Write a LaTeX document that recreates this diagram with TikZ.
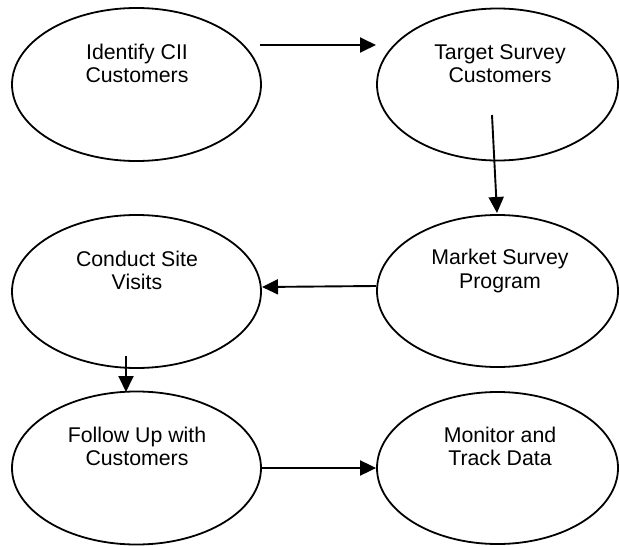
\documentclass[tikz,border=0pt]{standalone}
\usepackage{fontspec}
\setmainfont{Liberation Sans}
\usetikzlibrary{shapes.geometric,arrows.meta}

\tikzset{
  stage/.style={draw, ellipse, line width=1.8pt, inner sep=0pt},
  leftstage/.style={stage, minimum width=249pt, minimum height=153pt},
  rightstage/.style={stage, minimum width=241pt, minimum height=152pt},
  caption/.style={align=center, font=\fontsize{21.3}{23.5}\selectfont, inner sep=0pt},
  flow/.style={line width=1.9pt, -{Triangle[length=16pt, width=15pt]}}
}

\begin{document}
\begin{tikzpicture}[x=1pt, y=-1pt]
  \useasboundingbox (0,0) rectangle (619,546);

  % process stages
  \node[leftstage]  (e1) at (136.5, 84.5) {};
  \node[rightstage] (e2) at (497.5, 84.5) {};
  \node[rightstage] (e3) at (497.5, 291)  {};
  \node[leftstage]  (e4) at (136.5, 291.5){};
  \node[leftstage]  (e5) at (136.5, 468)  {};
  \node[rightstage] (e6) at (497.5, 468)  {};

  % stage labels
  \node[caption] (t1) at (137, 63.5)  {Identify CII\\Customers};
  \node[caption] (t2) at (500, 63.5)  {Target Survey\\Customers};
  \node[caption] (t3) at (500, 271)   {Market Survey\\Program};
  \node[caption] (t4) at (137, 270.5) {Conduct Site\\Visits};
  \node[caption] (t5) at (137, 446.5) {Follow Up with\\Customers};
  \node[caption] (t6) at (500, 446.5) {Monitor and\\Track Data};

  % connector end points
  \coordinate (a1s) at (260, 45);
  \coordinate (a1e) at (376, 45);
  \coordinate (a2s) at (492, 115);
  \coordinate (a2e) at (497, 213);
  \coordinate (a3s) at (376, 286);
  \coordinate (a3e) at (262, 287);
  \coordinate (a4s) at (126, 356);
  \coordinate (a4e) at (126, 392);
  \coordinate (a5s) at (e5.east);
  \coordinate (a5e) at (e6.west);

  % flow between stages
  \draw[flow] (a1s) -- (a1e);
  \draw[flow] (a2s) -- (a2e);
  \draw[flow] (a3s) -- (a3e);
  \draw[flow] (a4s) -- (a4e);
  \draw[flow] (a5s) -- (a5e);
\end{tikzpicture}
\end{document}
